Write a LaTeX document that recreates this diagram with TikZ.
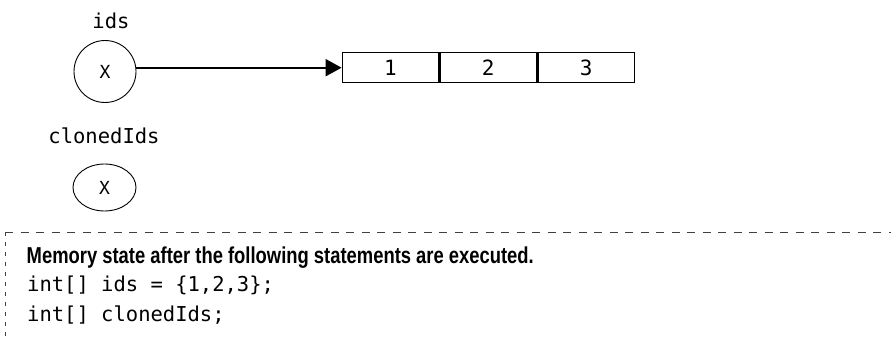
\documentclass[tikz,border=0pt]{standalone}
\usepackage{fontspec}
\setmonofont{DejaVu Sans Mono}
\newfontfamily\notefont[FakeStretch=0.8]{Liberation Sans}
\usetikzlibrary{arrows.meta,shapes.geometric,positioning}
\begin{document}
\begin{tikzpicture}[x = 1pt, y = -1pt,
  var/.style = {draw, circle, line width = 0.9pt, minimum size = 62pt, inner sep = 0pt, font = \fontsize{18}{18}\ttfamily},
  cell/.style = {draw, line width = 1.5pt, minimum width = 96.3pt, minimum height = 30pt, inner sep = 0pt, font = \fontsize{21}{21}\ttfamily},
  lbl/.style = {anchor = base, inner sep = 0pt, font = \fontsize{20.5}{20.5}\ttfamily},
  code/.style = {anchor = base west, inner sep = 0pt, font = \fontsize{20.5}{20.5}\ttfamily},
  note/.style = {anchor = base west, inner sep = 0pt, font = \notefont\bfseries\fontsize{23}{23}\selectfont},
  ptr/.style = {-{Triangle[length = 16pt, width = 17pt]}, line width = 2pt},
  ruler/.style = {line width = 0.9pt, black!75, dash pattern = on 8pt off 7.5pt},
  sideruler/.style = {line width = 0.9pt, black!75, dash pattern = on 4pt off 6pt}]
\useasboundingbox (0,0) rectangle (891,337);
\node[lbl] at (111,28.3) (idslabel) {ids};
\node[var] at (105,71.5) (ids) {X};
\node[lbl] at (104,143.3) (clonedlabel) {clonedIds};
\node[var, ellipse, minimum width = 63pt, minimum height = 47pt] at (104.5,187.5) (cloned) {X};
\node[cell] at (390.5,67.7) (c1) {1};
\node[cell, right = 0pt of c1] (c2) {2};
\node[cell, right = 0pt of c2] (c3) {3};
\draw[ptr] (ids.east |- c1.west) -- (c1.west);
% statements box
\draw[ruler] (5,232) -- (891,232);
\draw[sideruler] (5,232) -- (5,337);
\node[note] at (26.5,263.3) (caption) {Memory state after the following statements are executed.};
\node[code] at (27,291.7) (stmt1) {int[] ids = \{1,2,3\};};
\node[code] at (27,321.7) (stmt2) {int[] clonedIds;};
\end{tikzpicture}
\end{document}
